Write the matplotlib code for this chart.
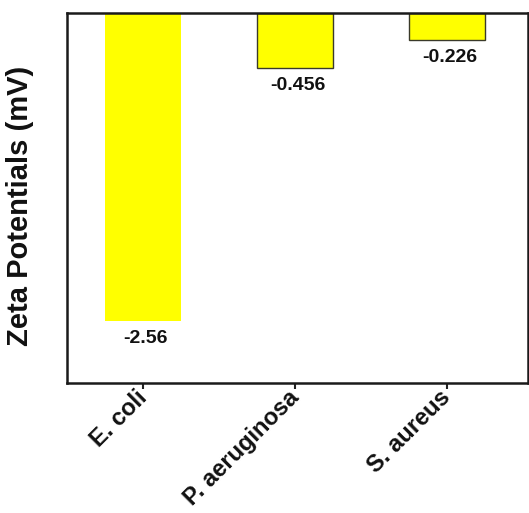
import matplotlib
matplotlib.use("Agg")
import matplotlib.pyplot as plt

# Zeta potential measurements per bacterial strain (mV)
strains = ["E. coli", "P. aeruginosa", "S. aureus"]
zeta_mv = [-2.56, -0.456, -0.226]
value_labels = ["-2.56", "-0.456", "-0.226"]

plt.rcParams["font.family"] = ["Liberation Sans", "DejaVu Sans"]

fig = plt.figure(figsize=(5.29, 5.13), dpi=100)
ax = fig.add_axes([67 / 529, 1 - 383 / 513, 461 / 529, 370 / 513])

x = range(len(strains))
edges = ["none", "#3a3a2a", "#3a3a2a"]
bars = ax.bar(x, zeta_mv, width=0.5, color="#ffff00",
              edgecolor=edges, linewidth=1.0)

for rect, txt in zip(bars, value_labels):
    cx = rect.get_x() + rect.get_width() / 2
    ax.annotate(txt, (cx, rect.get_height()), xytext=(2, -6.5),
                textcoords="offset points", ha="center", va="top",
                fontsize=14, fontweight="bold", color="#111111")

ax.set_ylim(-3.08, 0)
ax.set_xlim(-0.5, 2.53)
ax.set_yticks([])
ax.set_xticks(list(x))
ax.set_xticklabels(strains, rotation=45, ha="right", va="center",
                   rotation_mode="anchor",
                   fontsize=17, fontweight="bold", color="#111111")
ax.tick_params(axis="x", direction="out", length=4, width=1.5,
               color="#222222", pad=4)

for s in ax.spines.values():
    s.set_linewidth(1.8)
    s.set_color("#1a1a1a")

ax.set_ylabel("Zeta Potentials (mV)", fontsize=21, fontweight="bold",
              color="#111111")
ax.yaxis.set_label_coords(-0.072, 0.478)

fig.savefig("out.png", dpi=100)
